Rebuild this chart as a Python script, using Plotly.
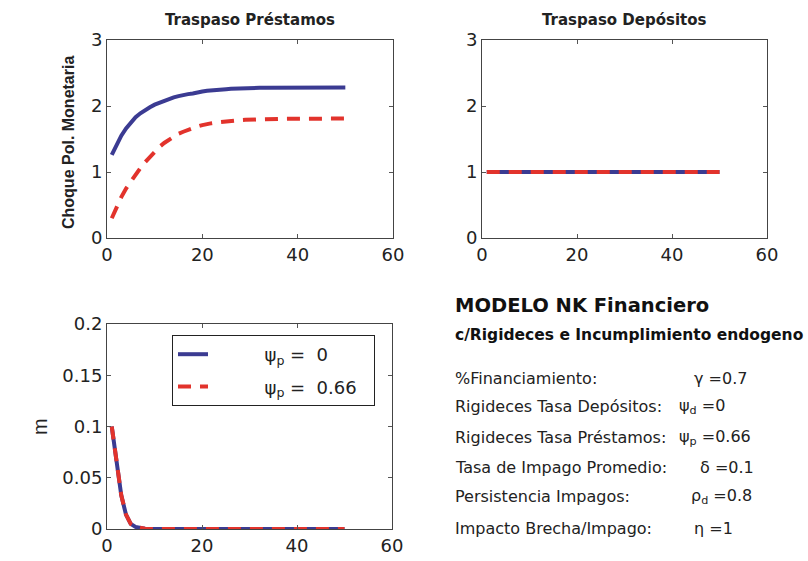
import plotly.graph_objects as go

# Periods after the shock
periods = list(range(1, 51))

# Lending-rate pass-through (psi_p = 0 and psi_p = 0.66)
prest_psi0 = [1.26, 1.42, 1.55, 1.66, 1.75, 1.83, 1.89, 1.94, 1.98, 2.02,
              2.05, 2.08, 2.11, 2.13, 2.15, 2.17, 2.18, 2.19, 2.21, 2.22,
              2.23, 2.24, 2.245, 2.25, 2.255, 2.26, 2.265, 2.27, 2.27, 2.272,
              2.274, 2.275, 2.276, 2.277, 2.278, 2.278, 2.279, 2.279, 2.28, 2.28,
              2.28, 2.28, 2.28, 2.28, 2.28, 2.28, 2.28, 2.28, 2.28, 2.28]
prest_psi066 = [0.30, 0.47, 0.62, 0.75, 0.86, 0.96, 1.06, 1.15, 1.23, 1.31,
                1.38, 1.44, 1.49, 1.54, 1.58, 1.61, 1.64, 1.67, 1.69, 1.71,
                1.73, 1.74, 1.75, 1.76, 1.77, 1.775, 1.78, 1.785, 1.79, 1.79,
                1.795, 1.797, 1.8, 1.8, 1.802, 1.804, 1.805, 1.806, 1.807, 1.808,
                1.808, 1.809, 1.809, 1.81, 1.81, 1.81, 1.81, 1.81, 1.81, 1.81]

# Deposit-rate pass-through
dep_psi0 = [1.0] * 50
dep_psi066 = [1.0] * 50

# Default rate m
m_psi0 = [0.1, 0.063, 0.033, 0.014, 0.005, 0.002, 0.0007, 0.0002] + [0.0] * 42
m_psi066 = [0.1, 0.063, 0.033, 0.014, 0.005, 0.002, 0.0007, 0.0002] + [0.0] * 42

legend_names = ["&nbsp;" * 9 + "ψ<sub>p</sub> =  0",
                "&nbsp;" * 9 + "ψ<sub>p</sub> =  0.66&nbsp;&nbsp;"]

BLUE = "#3b3b92"
RED = "#e2332c"
FONT = "DejaVu Sans, Liberation Sans, Arial, sans-serif"
FONT_N = "Liberation Sans, Arial, sans-serif"
TXT = "#222"
W, H = 808, 561

fig = go.Figure()

def add_pair(xa, ya, y_solid, y_dash, show):
    fig.add_trace(go.Scatter(x=periods, y=y_solid, mode="lines", xaxis=xa, yaxis=ya,
                             line=dict(color=BLUE, width=4), name=legend_names[0],
                             legendgroup="a", showlegend=show))
    fig.add_trace(go.Scatter(x=periods, y=y_dash, mode="lines", xaxis=xa, yaxis=ya,
                             line=dict(color=RED, width=4, dash="13px,9px"),
                             name=legend_names[1], legendgroup="b", showlegend=show))

add_pair("x", "y", prest_psi0, prest_psi066, False)
add_pair("x2", "y2", dep_psi0, dep_psi066, False)
add_pair("x3", "y3", m_psi0, m_psi066, True)

def px_x(p):
    return p / W

def px_y(p):
    return 1 - p / H

axis_common = dict(showline=True, linecolor="#444", linewidth=1, mirror="ticks",
                   ticks="inside", ticklen=4, tickcolor="#555", showgrid=False,
                   zeroline=False, automargin=False,
                   tickfont=dict(family=FONT, size=18, color=TXT))

top_y = [px_y(238), px_y(40)]
bot_y = [px_y(529), px_y(324)]

fig.update_layout(
    template="none",
    width=W, height=H, autosize=False,
    margin=dict(l=0, r=0, t=0, b=0, pad=0),
    paper_bgcolor="white", plot_bgcolor="white",
    xaxis=dict(domain=[px_x(107), px_x(393)], range=[0, 60], dtick=20, anchor="y", **axis_common),
    yaxis=dict(domain=top_y, range=[0, 3], dtick=1, anchor="x", **axis_common),
    xaxis2=dict(domain=[px_x(482), px_x(767)], range=[0, 60], dtick=20, anchor="y2", **axis_common),
    yaxis2=dict(domain=top_y, range=[0, 3], dtick=1, anchor="x2", **axis_common),
    xaxis3=dict(domain=[px_x(107), px_x(392)], range=[0, 60], dtick=20, anchor="y3", **axis_common),
    yaxis3=dict(domain=bot_y, range=[0, 0.2], dtick=0.05, anchor="x3", **axis_common),
    legend=dict(x=px_x(172), y=px_y(335), xanchor="left", yanchor="top",
                bgcolor="white", bordercolor="#222", borderwidth=1,
                tracegroupgap=6, traceorder="grouped",
                font=dict(family=FONT, size=18, color=TXT)),
    showlegend=True,
)

anns = []

def add_text(text, x, y, size, family=FONT, xanchor="center", angle=0, color=TXT):
    anns.append(dict(text=text, x=px_x(x), y=px_y(y), xref="paper", yref="paper",
                     xanchor=xanchor, yanchor="middle", showarrow=False, textangle=angle,
                     font=dict(family=family, size=size, color=color)))

# Panel titles
add_text("<b>Traspaso Préstamos</b>", 250, 20, 15)
add_text("<b>Traspaso Depósitos</b>", 624, 20, 15)
# Y-axis titles
add_text("<b>Choque Pol. Monetaria</b>", 68, 143, 16, family=FONT_N, angle=-90)
add_text("m", 40, 427, 20, family=FONT_N, angle=-90)

# Model description panel
add_text("<b>MODELO NK Financiero</b>", 453, 305, 19.5, xanchor="left", color="#111")
add_text("<b>c/Rigideces e Incumplimiento endogeno</b>", 453, 335, 15.5, xanchor="left", color="#111")

param_labels = ["%Financiamiento:", "Rigideces Tasa Depósitos:", "Rigideces Tasa Préstamos:",
                "Tasa de Impago Promedio:", "Persistencia Impagos:", "Impacto Brecha/Impago:"]
param_values = ["γ =0.7", "ψ<sub>d</sub> =0", "ψ<sub>p</sub> =0.66", "δ =0.1",
                "ρ<sub>d</sub> =0.8", "η =1"]
row_y = [378, 406, 437, 467, 496, 528]
val_x = [692, 677, 677, 698, 689, 692]

for lab, val, ry, vx in zip(param_labels, param_values, row_y, val_x):
    add_text(lab, 453, ry, 16, xanchor="left")
    add_text(val, vx, ry, 16, xanchor="left")

fig.update_layout(annotations=anns)

fig.write_html("out.html")
